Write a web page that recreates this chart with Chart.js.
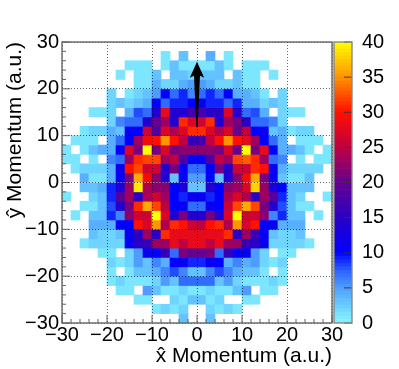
<!DOCTYPE html>
<html>
<head>
<meta charset="utf-8">
<script src="https://cdn.jsdelivr.net/npm/chart.js@4"></script>
<style>
  body { margin: 0; background: #fff; }
  canvas { position: absolute; left: 0; top: 0; }
</style>
</head>
<body>
<canvas id="heatmap" width="399" height="369"></canvas>
<canvas id="colorbar" width="399" height="369"></canvas>
<script>
// =====================
// Data
// =====================
const xBinCenters = [-29,-27,-25,-23,-21,-19,-17,-15,-13,-11,-9,-7,-5,-3,-1,1,3,5,7,9,11,13,15,17,19,21,23,25,27,29];
const yBinLowEdges = [28,26,24,22,20,18,16,14,12,10,8,6,4,2,0,-2,-4,-6,-8,-10,-12,-14,-16,-18,-20,-22,-24,-26,-28,-30];

// one row per y bin, top to bottom, 0 = empty bin
const counts = [
  [0,0,0,0,0,0,0,0,0,0,0,0,0,0,0,0,0,0,0,0,0,0,0,0,0,0,0,0,0,0],
  [0,0,0,0,0,0,0,0,0,0,0,1,0,3,0,0,4,0,1,0,0,0,0,0,0,0,0,0,0,0],
  [0,0,0,0,0,0,0,1,1,1,0,1,3,1,1,1,1,3,1,0,1,1,1,0,0,0,0,0,0,0],
  [0,0,0,0,0,0,1,0,1,1,3,0,3,3,2,3,3,3,0,3,1,1,0,1,0,0,0,0,0,0],
  [0,0,0,0,0,0,0,0,1,1,4,2,2,4,5,5,4,2,2,3,1,1,0,0,0,0,0,0,0,0],
  [0,0,0,0,0,2,0,1,2,3,5,10,7,9,6,7,9,7,10,4,4,3,1,0,2,0,0,0,0,0],
  [0,0,0,0,0,2,3,2,3,4,10,7,9,9,10,11,9,9,7,9,4,4,2,3,2,0,0,0,0,0],
  [0,0,0,1,1,2,0,4,8,7,14,28,14,14,17,17,15,15,27,14,7,8,4,0,2,1,1,0,0,0],
  [0,0,0,0,0,2,6,7,7,14,20,23,14,31,27,26,31,14,23,21,15,7,7,6,2,0,0,0,0,0],
  [0,0,1,2,2,4,3,11,10,26,18,27,24,27,31,31,27,24,27,20,25,10,11,3,4,1,2,2,0,0],
  [0,1,1,1,0,4,7,10,23,29,30,35,30,25,16,17,25,30,35,30,28,23,10,7,4,0,1,1,1,0],
  [1,0,1,3,4,4,10,27,21,40,21,27,21,22,22,22,22,21,27,20,40,21,28,10,4,4,3,1,0,1],
  [1,1,0,1,0,6,7,23,31,32,32,23,25,18,10,10,18,25,23,32,33,31,23,7,6,0,1,0,1,1],
  [0,1,2,2,2,4,11,30,32,26,26,14,21,11,7,7,10,21,14,26,26,31,30,11,4,2,2,2,2,0],
  [0,0,4,1,1,4,11,21,36,29,22,14,3,11,5,5,10,3,14,22,29,36,21,11,3,1,1,3,0,0],
  [0,0,3,3,4,9,13,23,39,24,22,22,10,13,3,3,14,10,22,23,27,38,23,13,10,3,3,3,0,0],
  [1,0,0,2,3,9,19,23,15,24,26,23,10,9,11,11,9,10,24,27,24,15,23,19,9,3,2,0,0,1],
  [0,0,1,1,3,8,14,21,31,36,32,25,10,11,7,7,11,10,26,32,36,32,21,14,8,3,1,1,0,0],
  [0,1,0,3,3,9,6,22,26,26,40,27,14,21,14,14,21,14,27,40,26,26,22,6,9,3,3,0,1,0],
  [0,0,0,4,4,4,10,10,30,27,35,24,31,30,26,25,30,31,24,35,27,30,10,11,4,4,4,0,0,0],
  [0,0,0,3,2,2,3,11,15,23,15,31,28,28,28,28,28,28,31,15,23,16,11,3,2,2,3,0,0,0],
  [0,0,1,2,2,2,2,11,15,16,23,23,28,25,28,28,25,28,23,23,16,15,11,2,2,2,2,1,0,0],
  [0,0,0,0,1,1,0,2,5,11,10,16,7,21,20,20,21,7,16,10,11,5,2,0,1,1,0,0,0,0],
  [0,0,0,0,0,2,1,2,5,3,6,4,10,11,9,9,11,10,4,6,4,5,2,1,2,0,0,0,0,0],
  [0,0,0,0,0,1,0,1,3,3,4,6,8,6,3,3,6,8,6,4,3,3,1,0,1,0,0,0,0,0],
  [0,0,0,0,0,1,2,1,1,1,2,5,3,7,7,7,7,3,5,2,1,1,1,2,1,0,0,0,0,0],
  [0,0,0,0,0,0,1,1,0,5,3,1,1,2,1,1,2,1,1,3,5,0,1,1,0,0,0,0,0,0],
  [0,0,0,0,0,0,0,0,1,1,0,0,2,1,3,3,1,2,0,0,1,1,0,0,0,0,0,0,0,0],
  [0,0,0,0,0,0,0,0,0,0,1,2,1,2,0,0,2,1,2,1,0,0,0,0,0,0,0,0,0,0],
  [0,0,0,0,0,0,0,0,0,0,0,0,0,3,0,0,3,0,0,0,0,0,0,0,0,0,0,0,0,0]
];

const axisTicks = [-30,-20,-10,0,10,20,30];
const axisMinorTicks = [-28,-26,-24,-22,-18,-16,-14,-12,-8,-6,-4,-2,2,4,6,8,12,14,16,18,22,24,26,28];
const paletteValues = [0,1,2.5,5,7.5,10,15,20,25,30,35,40];
const paletteColors = ['#82f2ff','#7ce6ff','#68ccff','#4f9cff','#2a60ff','#0000ff','#2a00c4','#66008f','#c00040','#ff1000','#ff9400','#ffff00'];
const colorbarLevels = [0,0.5,1,1.5,2,2.5,3,3.5,4,4.5,5,5.5,6,6.5,7,7.5,8,8.5,9,9.5,10,10.5,11,11.5,12,12.5,13,13.5,14,14.5,15,15.5,16,16.5,17,17.5,18,18.5,19,19.5,20,20.5,21,21.5,22,22.5,23,23.5,24,24.5,25,25.5,26,26.5,27,27.5,28,28.5,29,29.5,30,30.5,31,31.5,32,32.5,33,33.5,34,34.5,35,35.5,36,36.5,37,37.5,38,38.5,39,39.5];
const colorbarTicks = [0,5,10,15,20,25,30,35,40];
const arrowBaseY = 11.8;
const arrowTipY = 25.8;

// =====================
// Colour lookup
// =====================
const hexToRgb = (hex) => [1, 3, 5].map((i) => parseInt(hex.slice(i, i + 2), 16));

const colorFor = (value) => {
  let i = 0;
  while (i < paletteValues.length - 2 && value > paletteValues[i + 1]) i++;
  const t = (value - paletteValues[i]) / (paletteValues[i + 1] - paletteValues[i]);
  const a = hexToRgb(paletteColors[i]);
  const b = hexToRgb(paletteColors[i + 1]);
  return `rgb(${a.map((c, k) => Math.round(c + (b[k] - c) * t)).join(',')})`;
};

// =====================
// Frame, inward ticks and arrow
// =====================
const drawFrame = (chart, color = '#666') => {
  const { ctx, chartArea: a } = chart;
  ctx.save();
  ctx.strokeStyle = color;
  ctx.lineWidth = 1.4;
  ctx.strokeRect(a.left, a.top, a.right - a.left, a.bottom - a.top);
  ctx.restore();
};

const tickLine = (ctx, x0, y0, x1, y1) => {
  ctx.beginPath();
  ctx.moveTo(x0, y0);
  ctx.lineTo(x1, y1);
  ctx.stroke();
};

const heatmapDecor = {
  id: 'heatmapDecor',
  afterDraw(chart) {
    const { ctx, chartArea: a, scales: { x, y } } = chart;
    // arrow
    const ax = x.getPixelForValue(0);
    const tip = y.getPixelForValue(arrowTipY);
    const base = y.getPixelForValue(arrowBaseY);
    ctx.save();
    ctx.fillStyle = '#000';
    ctx.beginPath();
    ctx.moveTo(ax, tip);
    ctx.lineTo(ax + 7.2, tip + 16);
    ctx.lineTo(ax + 3, tip + 14);
    ctx.lineTo(ax + 0.6, base);
    ctx.lineTo(ax - 0.6, base);
    ctx.lineTo(ax - 3, tip + 14);
    ctx.lineTo(ax - 7.2, tip + 16);
    ctx.closePath();
    ctx.fill();
    // ticks point inward
    ctx.strokeStyle = '#555';
    ctx.lineWidth = 0.9;
    axisTicks.forEach((v) => {
      tickLine(ctx, x.getPixelForValue(v), a.bottom, x.getPixelForValue(v), a.bottom - 8);
      tickLine(ctx, a.left, y.getPixelForValue(v), a.left + 8, y.getPixelForValue(v));
    });
    axisMinorTicks.forEach((v) => {
      tickLine(ctx, x.getPixelForValue(v), a.bottom, x.getPixelForValue(v), a.bottom - 4);
      tickLine(ctx, a.left, y.getPixelForValue(v), a.left + 4, y.getPixelForValue(v));
    });
    ctx.restore();
    drawFrame(chart);
  }
};

const colorbarDecor = {
  id: 'colorbarDecor',
  afterDraw(chart) {
    const { ctx, chartArea: a, scales: { y } } = chart;
    ctx.save();
    ctx.strokeStyle = '#333';
    ctx.lineWidth = 0.9;
    colorbarTicks.forEach((v) => {
      tickLine(ctx, a.right, y.getPixelForValue(v), a.right - 8, y.getPixelForValue(v));
    });
    ctx.restore();
    drawFrame(chart, '#888');
  }
};

// =====================
// Render Heatmap
// =====================
const FONT = { family: '"Liberation Sans", Arial, sans-serif', size: 20 };
const TITLE_FONT = { family: '"Liberation Sans", Arial, sans-serif', size: 21 };

const rowDatasets = counts.map((row, r) => {
  const filled = xBinCenters.map((x, c) => ({ x, v: row[c] })).filter((cell) => cell.v > 0);
  return {
    type: 'bar',
    grouped: false,
    barPercentage: 1,
    categoryPercentage: 1,
    borderWidth: 0,
    data: filled.map((cell) => ({ x: cell.x, y: [yBinLowEdges[r], yBinLowEdges[r] + 2] })),
    backgroundColor: filled.map((cell) => colorFor(cell.v))
  };
});

new Chart(document.getElementById('heatmap').getContext('2d'), {
  type: 'bar',
  data: { datasets: rowDatasets },
  plugins: [heatmapDecor],
  options: {
    responsive: false,
    animation: false,
    devicePixelRatio: 1,
    layout: { padding: { top: 42, right: 67, left: 0, bottom: 0 } },
    plugins: { legend: { display: false }, tooltip: { enabled: false } },
    scales: {
      x: {
        type: 'linear',
        min: -30,
        max: 30,
        offset: false,
        afterFit: (scale) => { scale.height = 46; },
        afterBuildTicks: (scale) => { scale.ticks = axisTicks.map((value) => ({ value })); },
        grid: { color: 'rgba(0,0,0,0.75)', lineWidth: 0.8, z: 1, drawTicks: false, offset: false },
        border: { display: false, dash: [1, 2] },
        ticks: {
          font: FONT,
          color: '#000',
          padding: 0,
          maxRotation: 0,
          autoSkip: false,
          callback: (v) => String(v).replace('-', '\u2212')
        },
        title: { display: true, text: 'x\u0302 Momentum (a.u.)', align: 'end', color: '#000', font: TITLE_FONT, padding: 0 }
      },
      y: {
        type: 'linear',
        min: -30,
        max: 30,
        afterFit: (scale) => { scale.width = 62; },
        afterBuildTicks: (scale) => { scale.ticks = axisTicks.map((value) => ({ value })); },
        grid: { color: 'rgba(0,0,0,0.75)', lineWidth: 0.8, z: 1, drawTicks: false },
        border: { display: false, dash: [1, 2] },
        ticks: {
          font: FONT,
          color: '#000',
          padding: 3,
          autoSkip: false,
          callback: (v) => String(v).replace('-', '\u2212')
        },
        title: { display: true, text: 'y\u0302 Momentum (a.u.)', align: 'end', color: '#000', font: TITLE_FONT, padding: { top: 3, bottom: 0 } }
      }
    }
  }
});

// =====================
// Render Colour Bar
// =====================
new Chart(document.getElementById('colorbar').getContext('2d'), {
  type: 'bar',
  data: {
    labels: ['counts'],
    datasets: colorbarLevels.map((level) => ({
      grouped: false,
      barPercentage: 1,
      categoryPercentage: 1,
      borderWidth: 0,
      data: [[level, level + 0.5]],
      backgroundColor: colorFor(level + 0.25)
    }))
  },
  plugins: [colorbarDecor],
  options: {
    responsive: false,
    animation: false,
    devicePixelRatio: 1,
    layout: { padding: { top: 42, left: 334, right: 0, bottom: 46 } },
    plugins: { legend: { display: false }, tooltip: { enabled: false } },
    scales: {
      x: { display: false },
      y: {
        position: 'right',
        min: 0,
        max: 40,
        afterFit: (scale) => { scale.width = 47; },
        afterBuildTicks: (scale) => { scale.ticks = colorbarTicks.map((value) => ({ value })); },
        grid: { display: false },
        border: { display: false },
        ticks: { font: FONT, color: '#000', padding: 2, autoSkip: false }
      }
    }
  }
});
</script>
</body>
</html>
